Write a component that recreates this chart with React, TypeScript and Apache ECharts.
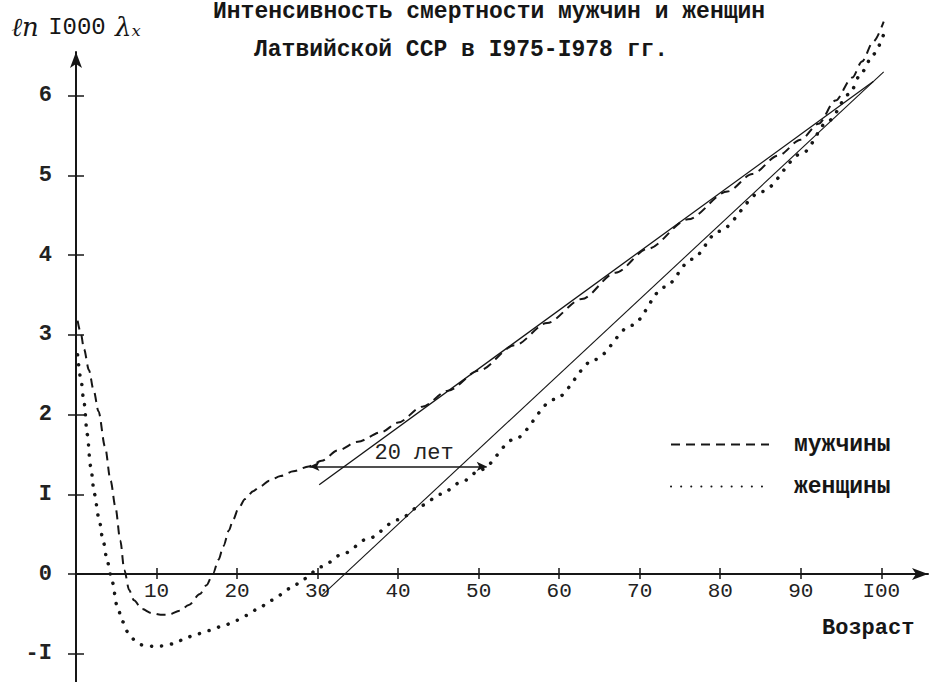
import React, { useEffect, useRef } from 'react';
import * as echarts from 'echarts';

// ---- data ----
const TITLE_LINES = ['Интенсивность смертности мужчин и женщин', 'Латвийской ССР в I975-I978 гг.'];
const SERIES_NAMES = ['мужчины', 'женщины'];
const X_NAME = 'Возраст';

const MEN_AGE = [0.2, 0.6, 1.0, 1.6, 2.2, 2.8, 3.6, 4.3, 4.9, 5.5, 6.0, 6.6, 7.2, 8.2, 9.4, 10.5, 11.5, 12.9, 14, 15.4, 16.2, 17, 17.7, 18.3, 19, 19.5, 20.2, 21, 22, 22.9, 24, 25.4, 27, 28.9, 30.5, 32.5, 35, 37.9, 40, 43, 46.2, 50, 54.5, 58.5, 62.8, 67, 71, 76, 80.9, 84, 87.2, 90, 92.2, 94.3, 96.4, 97.6, 99, 100.3];
const MEN_VAL = [3.18, 3.02, 2.82, 2.56, 2.3, 2.04, 1.6, 1.17, 0.84, 0.42, 0.05, -0.2, -0.33, -0.44, -0.49, -0.51, -0.51, -0.46, -0.39, -0.25, -0.14, 0, 0.18, 0.35, 0.55, 0.68, 0.83, 0.94, 1.04, 1.1, 1.17, 1.23, 1.29, 1.35, 1.42, 1.55, 1.66, 1.78, 1.9, 2.1, 2.3, 2.55, 2.87, 3.15, 3.45, 3.78, 4.08, 4.45, 4.8, 5.02, 5.25, 5.45, 5.65, 5.94, 6.23, 6.43, 6.68, 6.93];

const WOMEN_AGE = [0.2, 0.6, 1.0, 1.4, 1.8, 2.3, 2.8, 3.4, 3.9, 4.5, 5.1, 5.8, 6.5, 7.3, 8.2, 9.9, 11, 12.3, 13.5, 14.8, 16.5, 18.3, 20, 21.2, 22.7, 24.2, 26.7, 28.3, 30.4, 33.3, 36.2, 40, 42.9, 45.3, 47.8, 50.3, 54.4, 59.4, 64.4, 69, 73.1, 76.5, 79.8, 85.2, 90.2, 93.5, 96, 97.6, 99, 100.4];
const WOMEN_VAL = [2.75, 2.45, 2.15, 1.75, 1.36, 1.0, 0.72, 0.4, 0.15, -0.1, -0.4, -0.6, -0.74, -0.83, -0.89, -0.91, -0.9, -0.87, -0.81, -0.76, -0.71, -0.65, -0.58, -0.52, -0.43, -0.33, -0.18, -0.06, 0.09, 0.26, 0.44, 0.68, 0.86, 1.0, 1.15, 1.31, 1.69, 2.19, 2.69, 3.12, 3.6, 3.95, 4.3, 4.8, 5.28, 5.69, 6.02, 6.3, 6.52, 6.8];

// straight (fitted) lines
const MEN_FIT_AGE = [30.2, 99];
const MEN_FIT_VAL = [1.12, 6.18];
const WOMEN_FIT_AGE = [30.5, 100.3];
const WOMEN_FIT_VAL = [-0.27, 6.3];

// "20 лет" shift arrow
const GAP_AGE = [29, 51];
const GAP_VAL = 1.35;
const GAP_LABEL = '20 лет';

const X_TICKS = [10, 20, 30, 40, 50, 60, 70, 80, 90, 100];
const X_TICK_LABELS = ['10', '20', '30', '40', '50', '60', '70', '80', '90', 'I00'];
const Y_TICKS = [-1, 0, 1, 2, 3, 4, 5, 6];
const Y_TICK_LABELS = ['-I', '0', 'I', '2', '3', '4', '5', '6'];

const MONO = '"Liberation Mono", "DejaVu Sans Mono", monospace';
const INK = '#161616';

const zip = (a: number[], b: number[]) => a.map((v, i) => [v, b[i]]);

export default function App() {
  const ref = useRef<HTMLDivElement>(null);
  useEffect(() => {
    if (!ref.current) return;
    const chart = echarts.init(ref.current, undefined, { renderer: 'svg' });
    const xFmt = (v: number) => {
      const i = X_TICKS.indexOf(Math.round(v));
      return i >= 0 ? X_TICK_LABELS[i] : '';
    };
    const yFmt = (v: number) => {
      const i = Y_TICKS.indexOf(Math.round(v));
      return i >= 0 ? Y_TICK_LABELS[i] : '';
    };
    const XMIN = 0, XMAX = 105.8, YMIN = -1.355, YMAX = 6.55;
    const GRID_TOP = 52, GRID_BOTTOM = 0, H = 682;
    const gridH = H - GRID_TOP - GRID_BOTTOM;
    // lift the x axis from the grid bottom up to the value 0
    const xOffset = -((0 - YMIN) / (YMAX - YMIN)) * gridH;
    const option: any = {
      animation: false,
      backgroundColor: '#ffffff',
      title: [
        {
          text: TITLE_LINES[0], left: 213, top: 0, padding: 0,
          textStyle: { fontFamily: MONO, fontSize: 23, fontWeight: 'bold', color: INK, lineHeight: 24 },
        },
        {
          text: TITLE_LINES[1], left: 254, top: 38, padding: 0,
          textStyle: { fontFamily: MONO, fontSize: 23, fontWeight: 'bold', color: INK, lineHeight: 24 },
        },
      ],
      legend: {
        data: SERIES_NAMES,
        orient: 'vertical',
        left: 670,
        top: 433,
        padding: 0,
        itemWidth: 98,
        itemHeight: 20,
        itemGap: 19,
        selectedMode: false,
        itemStyle: { color: 'transparent', borderColor: 'transparent', borderWidth: 0, opacity: 0 },
        textStyle: { fontFamily: MONO, fontSize: 23, fontWeight: 'bold', color: INK, lineHeight: 20, padding: [0, 0, 0, 20] },
      },
      grid: { left: 76, right: 4, top: GRID_TOP, bottom: GRID_BOTTOM, containLabel: false, outerBoundsMode: 'none' },
      xAxis: [
        {
          type: 'value', min: XMIN, max: XMAX, position: 'bottom', offset: xOffset,
          axisLine: { onZero: false, symbol: ['none', 'arrow'], symbolSize: [9, 16], lineStyle: { color: INK, width: 2 } },
          axisTick: { customValues: X_TICKS, length: 5, lineStyle: { color: INK, width: 1.5 } },
          axisLabel: { customValues: X_TICKS, formatter: xFmt, margin: 7, fontFamily: MONO, fontSize: 21, color: '#222' },
          splitLine: { show: false },
        },
        {
          type: 'value', min: XMIN, max: XMAX, position: 'bottom', offset: xOffset,
          axisLine: { show: false, onZero: false },
          axisTick: { inside: true, customValues: X_TICKS, length: 6, lineStyle: { color: INK, width: 1.5 } },
          axisLabel: { show: false },
          splitLine: { show: false },
        },
      ],
      yAxis: [
        {
          type: 'value', min: YMIN, max: YMAX, position: 'left',
          name: '{l|ℓn} {n|I000} {l|λₓ}',
          nameLocation: 'end',
          nameGap: 12,
          nameTextStyle: {
            rich: {
              l: { fontFamily: '"DejaVu Serif", serif', fontStyle: 'italic', fontSize: 26, color: INK },
              n: { fontFamily: MONO, fontSize: 24, color: INK, padding: [0, 6, 0, 6] },
            },
          },
          axisLine: { onZero: false, symbol: ['none', 'arrow'], symbolSize: [9, 16], lineStyle: { color: INK, width: 2 } },
          axisTick: { customValues: Y_TICKS, length: 8, lineStyle: { color: INK, width: 1.5 } },
          axisLabel: { customValues: Y_TICKS, formatter: yFmt, margin: 24, fontFamily: MONO, fontSize: 22, fontWeight: 'bold', color: '#222' },
          splitLine: { show: false },
        },
        {
          type: 'value', min: YMIN, max: YMAX, position: 'left',
          axisLine: { show: false, onZero: false },
          axisTick: { inside: true, customValues: Y_TICKS, length: 8, lineStyle: { color: INK, width: 1.5 } },
          axisLabel: { show: false },
          splitLine: { show: false },
        },
      ],
      graphic: [
        {
          type: 'text', left: 822, top: 617,
          style: { text: X_NAME, font: `bold 22px ${MONO}`, fill: INK },
        },
      ],
      series: [
        {
          name: SERIES_NAMES[0], type: 'line', data: zip(MEN_AGE, MEN_VAL),
          symbol: 'none', smooth: 0.3, smoothMonotone: 'x', clip: false,
          lineStyle: { color: INK, width: 2, type: [9, 6] },
          itemStyle: { color: INK },
        },
        {
          name: SERIES_NAMES[1], type: 'line', data: zip(WOMEN_AGE, WOMEN_VAL),
          symbol: 'none', smooth: 0.3, smoothMonotone: 'x', clip: false,
          lineStyle: { color: INK, width: 3.5, type: [0.1, 10], cap: 'round' },
          itemStyle: { color: INK },
        },
        {
          name: 'men-fit', type: 'line', data: zip(MEN_FIT_AGE, MEN_FIT_VAL),
          symbol: 'none', clip: false, lineStyle: { color: INK, width: 1.3 },
        },
        {
          name: 'women-fit', type: 'line', data: zip(WOMEN_FIT_AGE, WOMEN_FIT_VAL),
          symbol: 'none', clip: false, lineStyle: { color: INK, width: 1.1 },
        },
        {
          name: 'gap', type: 'line', data: [],
          markLine: {
            silent: true,
            symbol: ['arrow', 'arrow'],
            symbolSize: [7, 10],
            lineStyle: { color: INK, width: 1.6, type: 'solid' },
            label: {
              show: true, formatter: GAP_LABEL, position: 'middle', distance: 2, offset: [16, 0],
              fontFamily: MONO, fontSize: 22, color: '#222',
            },
            data: [[{ coord: [GAP_AGE[0], GAP_VAL] }, { coord: [GAP_AGE[1], GAP_VAL] }]],
          },
        },
      ],
    };
    chart.setOption(option);
    return () => chart.dispose();
  }, []);
  return <div ref={ref} style={{ position: 'fixed', left: 0, top: 0, width: 932, height: 682, background: '#fff' }} />;
}
